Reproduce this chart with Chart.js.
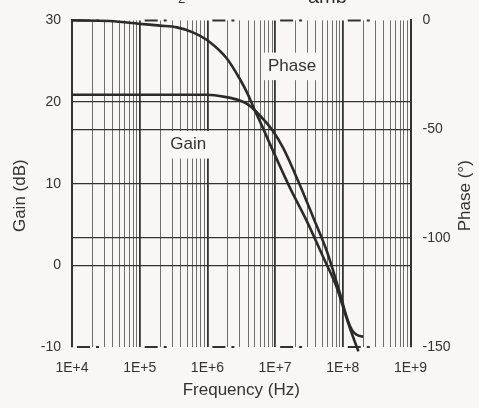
<!DOCTYPE html>
<html>
<head>
<meta charset="utf-8">
<script src="https://cdn.jsdelivr.net/npm/chart.js@4.4.1/dist/chart.umd.min.js"></script>
<style>
html, body { margin: 0; padding: 0; background: #f8f7f5; }
</style>
</head>
<body>
<canvas id="myChart" width="479" height="408"></canvas>
<script>
const BG = '#f8f7f5';
const INK = '#333333';
const FONT = '"Liberation Sans", Arial, Helvetica, sans-serif';

// frequency axis (Hz), decades shown on the x axis
const decades = [4, 5, 6, 7, 8, 9];

// gain curve
const gainFreq = [1e4, 1e5, 1e6, 1.9e6, 3e6, 3.8e6, 5e6, 9.4e6, 1.32e7, 2.2e7, 3.67e7, 5.78e7, 9.1e7, 1.14e8, 1.36e8, 1.6e8, 2.0e8];
const gainDb   = [20.9, 20.9, 20.9, 20.6, 20.2, 19.8, 19.0, 16.4, 14.35, 10.3, 5.84, 1.79, -3.47, -6.3, -7.9, -8.5, -8.75];

// phase curve
const phaseFreq = [1e4, 3.6e4, 1.12e5, 2e5, 3.55e5, 6.1e5, 1.09e6, 1.95e6, 3e6, 3.9e6, 5e6, 6e6, 9.4e6, 1.66e7, 2.93e7, 5.15e7, 8.1e7, 1.08e8, 1.36e8, 1.7e8];
const phaseDeg  = [0, -0.3, -1.7, -2.4, -3.2, -5.5, -10, -17.6, -26.8, -33.5, -41.2, -46.5, -60.2, -76.9, -92.1, -108.8, -122.5, -134.6, -143.8, -152];

// in-plot labels: [text, frequency, value on its own axis]
const gainLabel  = ['Gain', 5.2e5, 14.8];
const phaseLabel = ['Phase', 1.78e7, -21];

function toPoints(xs, ys) {
    return xs.map((x, i) => ({x: x, y: ys[i]}));
}

function isDecade(v) {
    const e = Math.round(Math.log10(v));
    return Math.abs(v - Math.pow(10, e)) < 1e-6 * v;
}

function logTicks(scale) {
    var ticks = [];
    for (let i = 0; i < decades.length; i++) {
        const base = Math.pow(10, decades[i]);
        const last = i == decades.length - 1 ? 1 : 9;
        for (let m = 1; m <= last; m++) {
            ticks.push({value: m * base});
        }
    }
    scale.ticks = ticks;
}

const titles = {
    id: 'titles',
    beforeDatasetsDraw(chart) {
        const ctx = chart.ctx;
        const area = chart.chartArea;
        const x = chart.scales.x, y = chart.scales.y, y2 = chart.scales.y2;
        ctx.save();
        // broken frame lines at top and bottom (dash repeats once per decade)
        const decadeW = x.getPixelForValue(1e5) - x.getPixelForValue(1e4);
        ctx.strokeStyle = INK;
        ctx.lineWidth = 2;
        ctx.setLineDash([13, 6, 3, decadeW - 22]);
        ctx.lineDashOffset = decadeW - 5;
        [area.top, area.bottom].forEach(function (yy) {
            ctx.beginPath();
            ctx.moveTo(area.left, yy);
            ctx.lineTo(area.right, yy);
            ctx.stroke();
        });
        ctx.setLineDash([]);

        ctx.font = '17px ' + FONT;
        ctx.textAlign = 'center';
        ctx.textBaseline = 'middle';
        [[gainLabel, y], [phaseLabel, y2]].forEach(function (item) {
            const lab = item[0], sc = item[1];
            const px = x.getPixelForValue(lab[1]);
            const py = sc.getPixelForValue(lab[2]);
            const w = ctx.measureText(lab[0]).width + 8;
            ctx.fillStyle = BG;
            ctx.fillRect(px - w / 2, py - 13.5, w, 27.5);
            ctx.fillStyle = INK;
            ctx.fillText(lab[0], px, py);
        });
        ctx.restore();
    },
    afterDraw(chart) {
        const ctx = chart.ctx;
        const midY = chart.chartArea.top + (chart.chartArea.bottom - chart.chartArea.top) / 2 + 12;
        ctx.save();
        ctx.fillStyle = INK;
        ctx.font = '17px ' + FONT;
        ctx.textAlign = 'center';
        ctx.textBaseline = 'middle';
        [['Gain (dB)', 20], ['Phase (\u00b0)', 465]].forEach(function (t) {
            ctx.save();
            ctx.translate(t[1], midY);
            ctx.rotate(-Math.PI / 2);
            ctx.fillText(t[0], 0, 0);
            ctx.restore();
        });
        // caption above the chart, cut off by the frame
        ctx.textAlign = 'left';
        ctx.textBaseline = 'alphabetic';
        ctx.font = '13px ' + FONT;
        ctx.fillText('2', 178, 3);
        ctx.font = '20px ' + FONT;
        ctx.fillText('amb', 308, 3);
        ctx.restore();
    }
};

const myChart = new Chart('myChart', {
    type: 'line',
    data: {
        datasets: [{
            label: 'Gain',
            data: toPoints(gainFreq, gainDb),
            yAxisID: 'y',
            borderColor: '#2b2b2b',
            borderWidth: 2.6,
            pointRadius: 0,
            cubicInterpolationMode: 'monotone',
            fill: false
        }, {
            label: 'Phase',
            data: toPoints(phaseFreq, phaseDeg),
            yAxisID: 'y2',
            borderColor: '#2b2b2b',
            borderWidth: 2.6,
            pointRadius: 0,
            cubicInterpolationMode: 'monotone',
            fill: false,
            clip: {left: 2, top: 2, right: 2, bottom: 8}
        }]
    },
    options: {
        responsive: false,
        animation: false,
        events: [],
        layout: {padding: {top: 18, left: 0, right: 0, bottom: 0}},
        plugins: {
            legend: {display: false},
            tooltip: {enabled: false}
        },
        scales: {
            x: {
                type: 'logarithmic',
                position: 'bottom',
                min: 1e4,
                max: 1e9,
                afterBuildTicks: logTicks,
                afterFit: function (s) { s.height = 61; },
                border: {display: false},
                grid: {
                    drawTicks: false,
                    color: function (c) { return c.tick && isDecade(c.tick.value) ? '#333' : '#6e6e6e'; },
                    lineWidth: function (c) { return c.tick && isDecade(c.tick.value) ? 1.8 : 1; }
                },
                ticks: {
                    autoSkip: false,
                    maxRotation: 0,
                    padding: 13,
                    color: INK,
                    font: {family: FONT, size: 14},
                    callback: function (v) {
                        return isDecade(v) ? '1E+' + Math.round(Math.log10(v)) : '';
                    }
                },
                title: {
                    display: true,
                    text: 'Frequency (Hz)',
                    color: INK,
                    font: {family: FONT, size: 17},
                    padding: {top: 0, bottom: 7}
                }
            },
            y: {
                position: 'left',
                min: -10,
                max: 30,
                afterFit: function (s) { s.width = 72; },
                border: {display: true, color: INK, width: 2},
                grid: {
                    drawTicks: false,
                    color: function (c) { return c.tick && (c.tick.value == 30 || c.tick.value == -10) ? 'rgba(0,0,0,0)' : '#333'; },
                    lineWidth: 1.3
                },
                ticks: {
                    stepSize: 10,
                    padding: 11,
                    color: INK,
                    font: {family: FONT, size: 14}
                }
            },
            y2: {
                position: 'right',
                min: -150,
                max: 0,
                afterFit: function (s) { s.width = 68.5; },
                border: {display: true, color: INK, width: 2},
                grid: {
                    drawTicks: false,
                    color: function (c) { return c.tick && (c.tick.value == 0 || c.tick.value == -150) ? 'rgba(0,0,0,0)' : '#333'; },
                    lineWidth: 1.3
                },
                ticks: {
                    stepSize: 50,
                    padding: 12,
                    color: INK,
                    font: {family: FONT, size: 14}
                }
            }
        }
    },
    plugins: [titles]
});
</script>
</body>
</html>
